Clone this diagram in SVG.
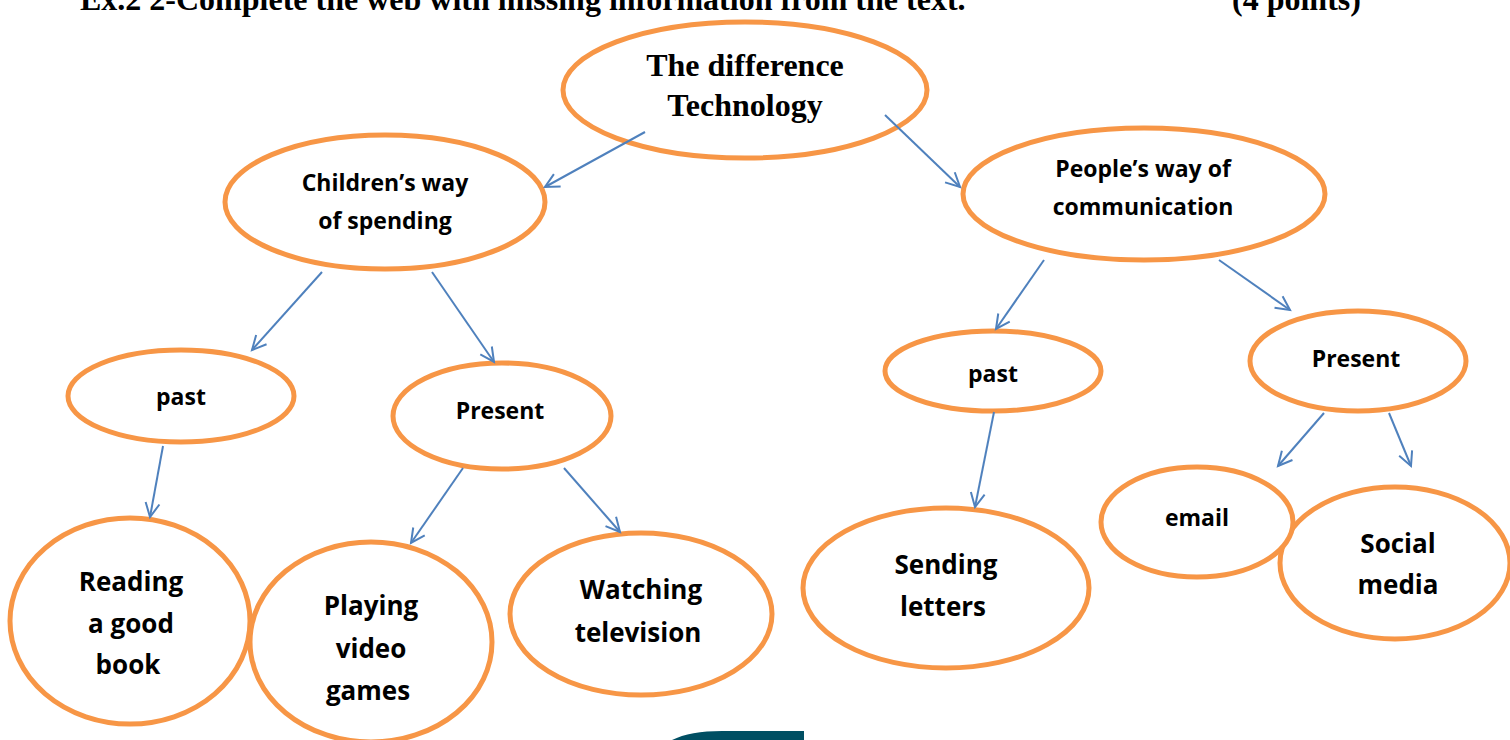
<svg xmlns="http://www.w3.org/2000/svg" width="1510" height="740" viewBox="0 0 1510 740">
<style>
.n{fill:#fff;stroke:#F79646;stroke-width:5}
.t{font-family:"Open Sans",Lato,"Liberation Sans",sans-serif;font-weight:bold;fill:#000;text-anchor:middle}
.s{font-size:23px}
.b{font-size:26px}
.h{font-family:"Liberation Serif","Times New Roman",serif;font-weight:bold;fill:#000}
.c line{stroke:#4F81BD;stroke-width:2;marker-end:url(#ah)}
</style>
<defs>
<marker id="ah" markerUnits="userSpaceOnUse" markerWidth="20" markerHeight="20" refX="15" refY="8" orient="auto" viewBox="0 0 20 16">
<path d="M1,1 L15,8 L1,15" fill="none" stroke="#4F81BD" stroke-width="2"/>
</marker>
</defs>
<rect width="1510" height="740" fill="#fff"/>
<g id="header">
<text class="h" x="80" y="10" font-size="32">Ex.2 2-Complete the web with missing information from the text.</text>
<text class="h" x="1232" y="10" font-size="32">(4 points)</text>
</g>
<g id="n-top"><ellipse class="n" cx="745" cy="90" rx="182" ry="68"/>
<text class="h" x="745" y="76" font-size="32" text-anchor="middle">The difference</text>
<text class="h" x="745" y="116" font-size="32" text-anchor="middle">Technology</text></g>
<g id="n-children"><ellipse class="n" cx="385" cy="202" rx="160" ry="67"/>
<text class="t s" x="385" y="191">Children’s way</text>
<text class="t s" x="385" y="229">of spending</text></g>
<g id="n-people"><ellipse class="n" cx="1144" cy="194" rx="181" ry="66"/>
<text class="t s" x="1143" y="177">People’s way of</text>
<text class="t s" x="1143" y="215">communication</text></g>
<g id="n-past-l"><ellipse class="n" cx="181" cy="396" rx="113" ry="46"/>
<text class="t s" x="181" y="405">past</text></g>
<g id="n-present-l"><ellipse class="n" cx="502" cy="416" rx="109" ry="53"/>
<text class="t s" x="500" y="419">Present</text></g>
<g id="n-past-r"><ellipse class="n" cx="993" cy="371" rx="108" ry="40"/>
<text class="t s" x="993" y="382">past</text></g>
<g id="n-present-r"><ellipse class="n" cx="1358" cy="361" rx="108" ry="50"/>
<text class="t s" x="1356" y="367">Present</text></g>
<g id="n-reading"><ellipse class="n" cx="130" cy="621" rx="120" ry="103"/>
<text class="t b" x="131" y="591">Reading</text>
<text class="t b" x="131" y="633">a good</text>
<text class="t b" x="128" y="674">book</text></g>
<g id="n-playing"><ellipse class="n" cx="371" cy="642" rx="121" ry="100"/>
<text class="t b" x="371" y="615">Playing</text>
<text class="t b" x="371" y="658">video</text>
<text class="t b" x="368" y="700">games</text></g>
<g id="n-watching"><ellipse class="n" cx="641" cy="614" rx="131" ry="81"/>
<text class="t b" x="641" y="599">Watching</text>
<text class="t b" x="638" y="642">television</text></g>
<g id="n-sending"><ellipse class="n" cx="946" cy="588" rx="143" ry="80"/>
<text class="t b" x="946" y="574">Sending</text>
<text class="t b" x="943" y="616">letters</text></g>
<g id="n-social"><ellipse class="n" cx="1395" cy="563" rx="115" ry="76"/>
<text class="t b" x="1398" y="553">Social</text>
<text class="t b" x="1398" y="594">media</text></g>
<g id="n-email"><ellipse class="n" cx="1197" cy="522" rx="96" ry="55"/>
<text class="t s" x="1197" y="526">email</text></g>
<g id="connectors" class="c">
<line x1="645" y1="132" x2="545" y2="187"/>
<line x1="885" y1="115" x2="960" y2="187"/>
<line x1="322" y1="272" x2="252" y2="350"/>
<line x1="432" y1="272" x2="494" y2="362"/>
<line x1="163" y1="446" x2="150" y2="517"/>
<line x1="463" y1="468" x2="411" y2="543"/>
<line x1="564" y1="468" x2="620" y2="532"/>
<line x1="1044" y1="260" x2="996" y2="329"/>
<line x1="1219" y1="260" x2="1290" y2="310"/>
<line x1="994" y1="412" x2="975" y2="507"/>
<line x1="1324" y1="413" x2="1278" y2="466"/>
<line x1="1389" y1="413" x2="1411" y2="466"/>
</g>
<path d="M672,740 Q690,731 722,731 L804,731 L804,740 Z" fill="#004F63"/>
</svg>
